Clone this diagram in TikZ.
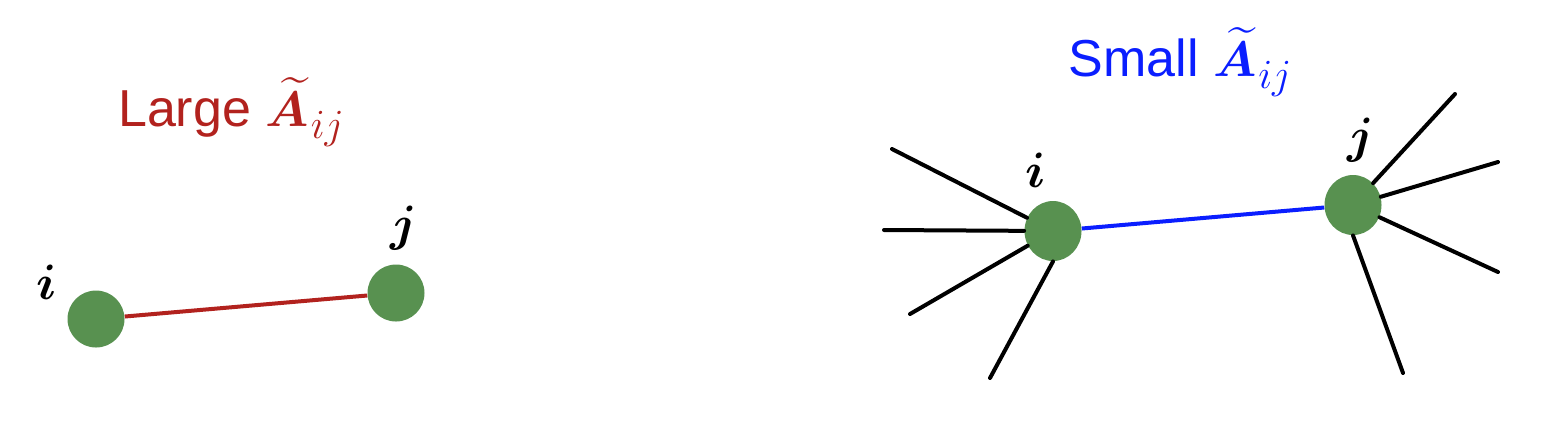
\documentclass[tikz,border=0pt]{standalone}
\usepackage{fontspec}
\usepackage{amsmath,bm}
\usetikzlibrary{shapes.geometric}
\newfontfamily\lblfont{Liberation Sans}
\definecolor{nodegreen}{RGB}{88,145,80}
\definecolor{edgered}{RGB}{178,34,30}
\definecolor{edgeblue}{RGB}{10,30,255}
\newcommand{\Atil}{$\bm{\widetilde{A}}$\hspace{1pt}\raisebox{-6pt}{\fontsize{20}{22}\selectfont$ij$}}
\begin{document}
\begin{tikzpicture}[x=0.5pt,y=-0.5pt,
  vert/.style={circle,fill=nodegreen,minimum size=28.5pt,inner sep=0pt},
  vertr/.style={ellipse,fill=nodegreen,minimum width=28.5pt,minimum height=30pt,inner sep=0pt},
  spoke/.style={line width=2pt,black,line cap=round},
  redge/.style={line width=2pt,edgered},
  bedge/.style={line width=2pt,edgeblue},
  idx/.style={font=\fontsize{33}{36}\selectfont},
  title/.style={font=\lblfont\fontsize{26}{30}\selectfont}]
\useasboundingbox (0,0) rectangle (1562,420);
% left
\node[vert] (li) at (96,319) {};
\node[vert] (lj) at (396,293) {};
\draw[redge] (li) -- (lj);
\node[idx] (lil) at (47,282) {$\bm{i}$};
\node[idx] (ljl) at (404,228) {$\bm{j}$};
\node[title,text=edgered] (lt) at (231,112) {Large \Atil};
% right
\coordinate (a1) at (892,149);
\coordinate (a2) at (884,230);
\coordinate (a3) at (910,314);
\coordinate (a4) at (990,378);
\coordinate (b1) at (1455,94);
\coordinate (b2) at (1498,162);
\coordinate (b3) at (1498,272);
\coordinate (b4) at (1403,373);
\node[vertr] (ri) at (1053,231) {};
\node[vertr] (rj) at (1353,205) {};
\foreach \c in {a1,a2,a3} \draw[spoke] (ri) -- (\c);
\draw[spoke] (ri.south) -- (a4);
\foreach \c in {b1,b2,b3} \draw[spoke] (rj) -- (\c);
\draw[spoke] (rj.south) -- (b4);
\draw[bedge] (ri) -- (rj);
\node[idx] (ril) at (1036,170) {$\bm{i}$};
\node[idx] (rjl) at (1361,140) {$\bm{j}$};
\node[title,text=edgeblue] (rt) at (1180,62) {Small \Atil};
\end{tikzpicture}
\end{document}
